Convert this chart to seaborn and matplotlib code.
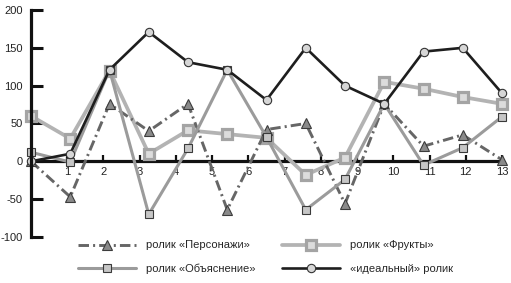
import numpy as np
import pandas as pd
import matplotlib
matplotlib.use("Agg")
import matplotlib.pyplot as plt
import seaborn as sns

sns.set_style("white")
plt.rcParams['font.family'] = ['Liberation Sans', 'DejaVu Sans']

# ---- data ----
points = list(range(13))
personazhi = [0, -47, 76, 40, 76, -64, 42, 50, -56, 76, 20, 35, 2]
frukty = [60, 30, 120, 10, 41, 36, 31, -18, 5, 105, 96, 85, 76]
obyasnenie = [12, -1, 121, -70, 17, 121, 32, -64, -24, 76, -5, 18, 59]
idealny = [0, 10, 121, 171, 131, 121, 81, 150, 100, 76, 145, 150, 90]
tick_labels = [str(k) for k in range(1, 14)]
ytick_vals = [-100, -50, 0, 50, 100, 150, 200]

names = ['ролик «Персонажи»', 'ролик «Фрукты»', 'ролик «Объяснение»', '«идеальный» ролик']

W, H = 511, 283
fig = plt.figure(figsize=(W / 100, H / 100), dpi=100)
ax = fig.add_axes([31 / W, 1 - 237 / H, (502 - 31) / W, (237 - 10) / H])

common = dict(ax=ax, clip_on=False)

sns.lineplot(x=points, y=frukty, color='#b3b3b3', lw=2.7, marker='s', markersize=7,
             markerfacecolor='#dcdcdc', markeredgecolor='#a4a4a4', markeredgewidth=2.3,
             **common)
sns.lineplot(x=points, y=personazhi, color='#666666', lw=2.1, marker='^', markersize=6.5,
             markerfacecolor='#8a8a8a', markeredgecolor='#3c3c3c', markeredgewidth=0.8,
             **common)
sns.lineplot(x=points, y=obyasnenie, color='#9b9b9b', lw=2.2, marker='s', markersize=5.2,
             markerfacecolor='#c6c6c6', markeredgecolor='#3a3a3a', markeredgewidth=0.8,
             **common)
sns.lineplot(x=points, y=idealny, color='#1e1e1e', lw=1.9, marker='o', markersize=6,
             markerfacecolor='#d6d6d6', markeredgecolor='#333333', markeredgewidth=0.8,
             **common)

h_fr, h_pe, h_ob, h_id = ax.lines[0], ax.lines[1], ax.lines[2], ax.lines[3]
h_pe.set_dashes([3.6, 1.4, 0.7, 1.4])
for ln in ax.lines:
    ln.set_clip_on(False)

ax.set_xlim(0, 12)
ax.set_ylim(-100, 200)

# axes styling
for s in ['top', 'right']:
    ax.spines[s].set_visible(False)
ax.spines['left'].set_linewidth(2.3)
ax.spines['left'].set_color('#111111')
ax.spines['bottom'].set_position(('data', 0))
ax.spines['bottom'].set_linewidth(2.3)
ax.spines['bottom'].set_color('#111111')
ax.spines['bottom'].set_zorder(1.5)

ax.set_yticks(ytick_vals)
ax.set_yticklabels([str(v) for v in ytick_vals])
ax.set_xticks([k * 12 / 13 for k in range(1, 14)])
ax.set_xticklabels(tick_labels)
ax.tick_params(axis='y', direction='in', length=8.5, width=2.2, color='#111111',
               labelsize=8, labelcolor='#222222', pad=6, left=True)
ax.tick_params(axis='x', direction='in', length=4.5, width=1.6, color='#111111',
               labelsize=8, labelcolor='#222222', pad=4, bottom=True)
ax.grid(False)
ax.set_xlabel('')
ax.set_ylabel('')

fig.legend([h_pe, h_ob, h_fr, h_id], [names[0], names[2], names[1], names[3]],
           ncol=2, loc='upper left', bbox_to_anchor=(74 / W, 1 - 236 / H),
           frameon=False, fontsize=8, handlelength=5.2, columnspacing=2.4,
           labelspacing=1.2, handletextpad=0.9, borderaxespad=0)

fig.savefig('out.png', dpi=100)
